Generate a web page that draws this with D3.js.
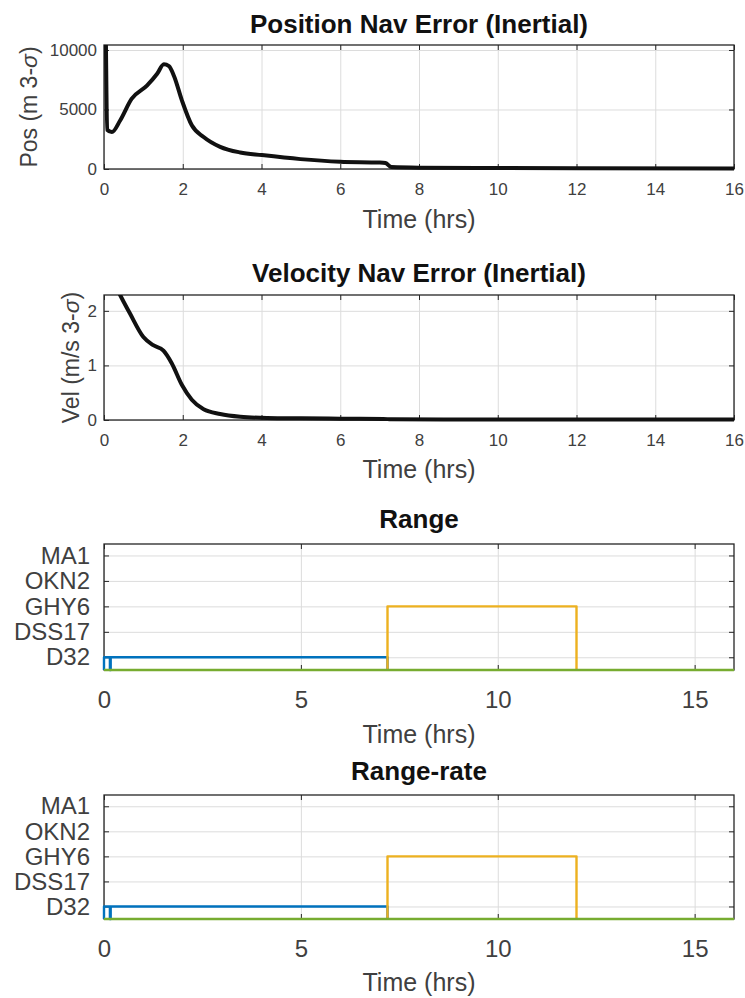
<!DOCTYPE html>
<html>
<head>
<meta charset="utf-8">
<script src="https://cdn.jsdelivr.net/npm/d3@7/dist/d3.min.js"></script>
<style>
  html, body { margin: 0; padding: 0; background: #fff; }
  svg { display: block; }
  text { font-family: "Liberation Sans", Arial, sans-serif; }
</style>
</head>
<body>
<svg id="chart" width="745" height="998"></svg>
<script>
// --- data ---
const timeTicks = [0, 2, 4, 6, 8, 10, 12, 14, 16];
const passTicks = [0, 5, 10, 15];

// position 3-sigma error (m) vs time (hrs)
const posT = [0, 0.03, 0.08, 0.2, 0.41, 0.7, 1.09, 1.35, 1.52, 1.65, 1.78, 1.98, 2.23, 2.53, 2.95, 3.46, 4.01, 4.99, 6.0, 7.0, 7.15, 7.3, 8, 10, 12, 16];
const posV = [14000, 14000, 3300, 3100, 4080, 5890, 7000, 8000, 8800, 8650, 7800, 5750, 3670, 2690, 1860, 1390, 1170, 830, 610, 540, 500, 160, 110, 80, 60, 50];

// velocity 3-sigma error (m/s) vs time (hrs)
const velT = [0, 0.2, 0.41, 0.66, 1.0, 1.25, 1.51, 1.72, 1.98, 2.23, 2.53, 2.95, 3.46, 4.14, 5, 6, 7.1, 7.3, 10, 16];
const velV = [2.9, 2.6, 2.29, 1.95, 1.52, 1.37, 1.27, 1.04, 0.64, 0.37, 0.195, 0.11, 0.06, 0.037, 0.03, 0.025, 0.02, 0.012, 0.01, 0.008];

// tracking stations (level 1..5) and passes; 0.5 = no station
const stations = ['D32', 'DSS17', 'GHY6', 'OKN2', 'MA1'];
const blueT = [0, 0, 0.15, 0.15, 0.17, 0.17, 7.2, 7.2];
const blueL = [0.5, 1, 1, 0.5, 0.5, 1, 1, 0.5];
const orangeT = [7.2, 7.2, 12.0, 12.0];
const orangeL = [0.5, 3, 3, 0.5];
const greenT = [0, 16];
const greenL = [0.5, 0.5];

const svg = d3.select('#chart');
const X0 = 104, X1 = 734;
const AX = '#262626', GRID = '#dcdcdc', LBL = '#404040';

function panel(opt) {
  const { top, bottom } = opt;
  const x = d3.scaleLinear().domain([0, 16]).range([X0, X1]);
  const y = d3.scaleLinear().domain(opt.yDomain).range([bottom, top]);
  const g = svg.append('g');
  const id = 'clip' + top;

  // clip a touch below the axis so lines sitting on it stay visible
  g.append('clipPath').attr('id', id)
    .append('rect').attr('x', X0 - 2).attr('y', top).attr('width', X1 - X0 + 4).attr('height', bottom - top + 2);

  // grid
  g.append('g').attr('transform', `translate(0,${bottom})`)
    .call(d3.axisBottom(x).tickValues(opt.xTicks).tickSize(-(bottom - top)).tickFormat(''))
    .call(s => { s.select('.domain').remove(); s.selectAll('line').attr('stroke', GRID); });
  g.append('g').attr('transform', `translate(${X0},0)`)
    .call(d3.axisLeft(y).tickValues(opt.yTicks).tickSize(-(X1 - X0)).tickFormat(''))
    .call(s => { s.select('.domain').remove(); s.selectAll('line').attr('stroke', GRID); });

  // box + inward ticks
  g.append('rect').attr('x', X0).attr('y', top).attr('width', X1 - X0).attr('height', bottom - top)
    .attr('fill', 'none').attr('stroke', AX).attr('stroke-width', 1.3);

  const fs = opt.tickFont;
  g.append('g').attr('transform', `translate(0,${bottom})`)
    .call(d3.axisBottom(x).tickValues(opt.xTicks).tickSize(-5).tickPadding(opt.xPad))
    .call(s => {
      s.select('.domain').remove();
      s.selectAll('line').attr('stroke', AX);
      s.selectAll('text').attr('font-size', fs).attr('fill', LBL).attr('font-family', null);
    });
  g.append('g').attr('transform', `translate(0,${top})`)
    .call(d3.axisTop(x).tickValues(opt.xTicks).tickSize(-5).tickFormat(''))
    .call(s => { s.select('.domain').remove(); s.selectAll('line').attr('stroke', AX); });
  g.append('g').attr('transform', `translate(${X0},0)`)
    .call(d3.axisLeft(y).tickValues(opt.yTicks).tickSize(-5).tickPadding(opt.yPad).tickFormat(opt.yFormat))
    .call(s => {
      s.select('.domain').remove();
      s.selectAll('line').attr('stroke', AX);
      s.selectAll('text').attr('font-size', fs).attr('fill', LBL).attr('font-family', null);
    });
  g.append('g').attr('transform', `translate(${X1},0)`)
    .call(d3.axisRight(y).tickValues(opt.yTicks).tickSize(-5).tickFormat(''))
    .call(s => { s.select('.domain').remove(); s.selectAll('line').attr('stroke', AX); });

  // series
  const line = d3.line().x(d => x(d[0])).y(d => y(d[1])).curve(opt.curve || d3.curveLinear);
  opt.series.forEach(sr => {
    g.append('path')
      .datum(d3.zip(sr.t, sr.v))
      .attr('d', line)
      .attr('fill', 'none')
      .attr('stroke', sr.color)
      .attr('stroke-width', sr.width)
      .attr('stroke-linejoin', 'round')
      .attr('clip-path', `url(#${id})`);
  });

  // labels
  g.append('text').attr('x', (X0 + X1) / 2).attr('y', opt.titleY)
    .attr('text-anchor', 'middle').attr('font-size', 26).attr('font-weight', 'bold').attr('fill', '#111')
    .text(opt.title);
  g.append('text').attr('x', (X0 + X1) / 2).attr('y', opt.xLabelY)
    .attr('text-anchor', 'middle').attr('font-size', 25).attr('fill', LBL)
    .text('Time (hrs)');
  if (opt.yLabel) {
    const t = g.append('text')
      .attr('transform', `translate(${opt.yLabelX},${(top + bottom) / 2}) rotate(-90)`)
      .attr('text-anchor', 'middle').attr('font-size', 23).attr('fill', LBL);
    t.append('tspan').text(opt.yLabel + ' 3-');
    t.append('tspan').attr('font-style', 'italic').text('σ');
    t.append('tspan').text(')');
  }
}

panel({
  top: 45, bottom: 169, yDomain: [0, 10420], yTicks: [0, 5000, 10000], yFormat: d3.format('d'),
  xTicks: timeTicks, tickFont: 17, xPad: 14, yPad: 7,
  title: 'Position Nav Error (Inertial)', titleY: 33, xLabelY: 228,
  yLabel: 'Pos (m', yLabelX: 37, curve: d3.curveMonotoneX,
  series: [{ t: posT, v: posV, color: '#111', width: 4 }]
});

panel({
  top: 295, bottom: 420, yDomain: [0, 2.29], yTicks: [0, 1, 2], yFormat: d3.format('d'),
  xTicks: timeTicks, tickFont: 17, xPad: 14, yPad: 7,
  title: 'Velocity Nav Error (Inertial)', titleY: 282, xLabelY: 478,
  yLabel: 'Vel (m/s', yLabelX: 79, curve: d3.curveMonotoneX,
  series: [{ t: velT, v: velV, color: '#111', width: 4 }]
});

const passSeries = [
  { t: blueT, v: blueL, color: '#0072BD', width: 2.4 },
  { t: orangeT, v: orangeL, color: '#EDB120', width: 2.4 },
  { t: greenT, v: greenL, color: '#77AC30', width: 2.6 }
];

panel({
  top: 544, bottom: 670, yDomain: [0.5, 5.45], yTicks: [1, 2, 3, 4, 5], yFormat: d => stations[d - 1],
  xTicks: passTicks, tickFont: 24, xPad: 21, yPad: 14,
  title: 'Range', titleY: 528, xLabelY: 743,
  series: passSeries
});

panel({
  top: 795, bottom: 919, yDomain: [0.5, 5.45], yTicks: [1, 2, 3, 4, 5], yFormat: d => stations[d - 1],
  xTicks: passTicks, tickFont: 24, xPad: 21, yPad: 14,
  title: 'Range-rate', titleY: 780, xLabelY: 991,
  series: passSeries
});
</script>
</body>
</html>
